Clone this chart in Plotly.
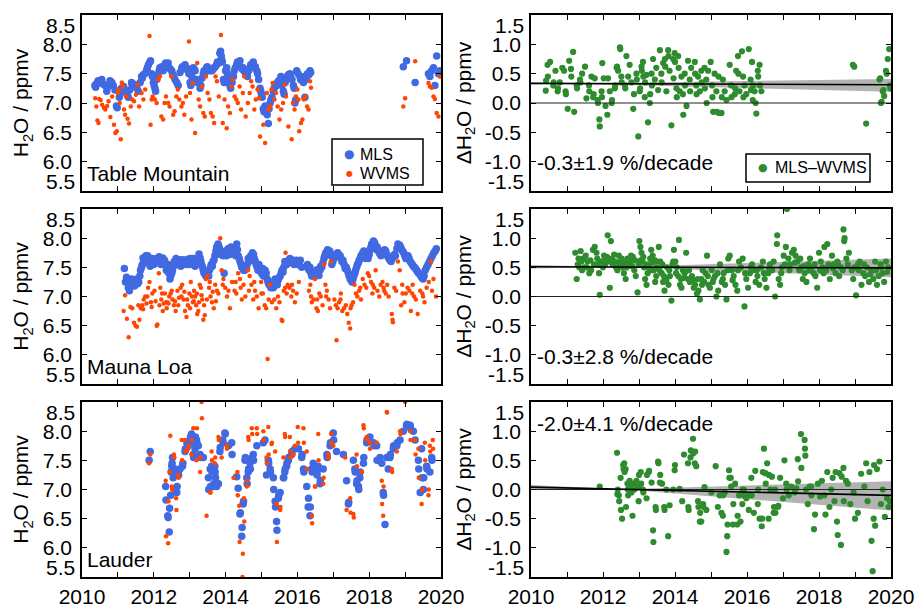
import plotly.graph_objects as go

FONT = "Liberation Sans, Arial, Helvetica, sans-serif"
BLUE = "#4169E1"
ORANGE = "#FF4500"
GREEN = "#2E8B2E"

EVEN_YEARS = [2010, 2012, 2014, 2016, 2018, 2020]
YEAR_TEXT = ["2010", "2012", "2014", "2016", "2018", "2020"]
LEFT_TICKS = [6.0, 6.5, 7.0, 7.5, 8.0]
LEFT_TEXT = ["6.0", "6.5", "7.0", "7.5", "8.0"]
RIGHT_TICKS = [-1.0, -0.5, 0.0, 0.5, 1.0]
RIGHT_TEXT = ["-1.0", "-0.5", "0.0", "0.5", "1.0"]

STATIONS = ["Table Mountain", "Mauna Loa", "Lauder"]
TRENDS = ["-0.3\u00b11.9 %/decade", "-0.3\u00b12.8 %/decade", "-2.0\u00b14.1 %/decade"]

# ---------------- Table Mountain ----------------
tm_mls = [
    (2010.36, 7.30), (2010.38, 7.27), (2010.45, 7.38), (2010.47, 7.34), (2010.55, 7.40), (2010.64, 7.30),
    (2010.69, 7.20), (2010.78, 7.38), (2010.87, 7.30), (2010.92, 7.22), (2010.96, 6.95), (2010.98, 6.92),
    (2011.04, 7.10), (2011.10, 7.25), (2011.12, 7.20), (2011.20, 7.20), (2011.29, 7.10), (2011.38, 7.35),
    (2011.40, 7.30), (2011.48, 7.30), (2011.50, 7.27), (2011.57, 7.20), (2011.66, 7.45), (2011.68, 7.42),
    (2011.75, 7.50), (2011.80, 7.56), (2011.82, 7.60), (2011.89, 7.70), (2011.91, 7.72), (2011.94, 7.50),
    (2011.96, 7.45), (2011.99, 7.35), (2012.01, 7.30), (2012.03, 7.25), (2012.05, 7.20), (2012.08, 7.40),
    (2012.15, 7.55), (2012.17, 7.60), (2012.22, 7.62), (2012.31, 7.65), (2012.33, 7.68), (2012.40, 7.68),
    (2012.42, 7.60), (2012.50, 7.55), (2012.52, 7.50), (2012.59, 7.40), (2012.68, 7.30), (2012.78, 7.60),
    (2012.80, 7.62), (2012.87, 7.65), (2012.96, 7.55), (2012.98, 7.50), (2013.01, 7.35), (2013.03, 7.30),
    (2013.10, 7.60), (2013.12, 7.58), (2013.19, 7.40), (2013.21, 7.35), (2013.29, 7.25), (2013.31, 7.30),
    (2013.38, 7.50), (2013.40, 7.55), (2013.47, 7.60), (2013.49, 7.62), (2013.57, 7.55), (2013.66, 7.58),
    (2013.68, 7.60), (2013.75, 7.65), (2013.77, 7.70), (2013.84, 7.85), (2013.86, 7.88), (2013.88, 7.80),
    (2013.89, 7.75), (2013.91, 7.70), (2013.94, 7.40), (2013.96, 7.35), (2014.03, 7.60), (2014.05, 7.50),
    (2014.12, 7.30), (2014.14, 7.25), (2014.22, 7.45), (2014.24, 7.55), (2014.31, 7.65), (2014.33, 7.70),
    (2014.40, 7.72), (2014.42, 7.62), (2014.49, 7.60), (2014.51, 7.55), (2014.59, 7.50), (2014.61, 7.45),
    (2014.68, 7.60), (2014.70, 7.65), (2014.77, 7.70), (2014.79, 7.60), (2014.87, 7.55), (2014.89, 7.50),
    (2014.96, 7.25), (2014.98, 7.20), (2015.00, 7.15), (2015.02, 7.10), (2015.05, 6.90), (2015.07, 6.85),
    (2015.14, 6.85), (2015.16, 6.80), (2015.19, 6.65), (2015.24, 7.00), (2015.26, 7.05), (2015.33, 7.20),
    (2015.35, 7.25), (2015.42, 7.30), (2015.44, 7.35), (2015.52, 7.40), (2015.54, 7.45), (2015.61, 7.20),
    (2015.63, 7.15), (2015.70, 7.40), (2015.72, 7.45), (2015.79, 7.50), (2015.81, 7.48), (2015.89, 7.30),
    (2015.91, 7.25), (2015.93, 7.00), (2015.95, 7.05), (2015.98, 7.55), (2016.07, 7.45), (2016.09, 7.40),
    (2016.17, 7.35), (2016.19, 7.45), (2016.21, 7.10), (2016.26, 7.45), (2016.28, 7.50), (2016.35, 7.55),
    (2016.37, 7.52), (2018.95, 7.62), (2019.04, 7.72), (2019.28, 7.35), (2019.65, 7.50), (2019.69, 7.45),
    (2019.74, 7.55), (2019.79, 7.60), (2019.83, 7.30), (2019.88, 7.80), (2019.93, 7.50), (2019.97, 7.55),
    (2010.40, 7.33), (2010.50, 7.36), (2010.60, 7.32), (2010.73, 7.28), (2010.83, 7.35), (2011.07, 7.18),
    (2011.16, 7.28), (2011.25, 7.15), (2011.33, 7.22), (2011.44, 7.32), (2011.53, 7.25), (2011.62, 7.35),
    (2011.71, 7.48), (2011.85, 7.65), (2012.11, 7.48), (2012.19, 7.58), (2012.26, 7.55), (2012.36, 7.62),
    (2012.46, 7.58), (2012.56, 7.45), (2012.64, 7.35), (2012.73, 7.52), (2012.84, 7.58), (2012.91, 7.60),
    (2013.06, 7.45), (2013.15, 7.55), (2013.25, 7.35), (2013.34, 7.42), (2013.43, 7.52), (2013.53, 7.58),
    (2013.62, 7.55), (2013.71, 7.62), (2013.80, 7.68), (2014.00, 7.55), (2014.08, 7.40), (2014.18, 7.35),
    (2014.27, 7.60), (2014.36, 7.68), (2014.46, 7.58), (2014.55, 7.52), (2014.64, 7.55), (2014.73, 7.65),
    (2014.83, 7.62), (2014.92, 7.40), (2015.10, 6.95), (2015.21, 6.90), (2015.29, 7.10), (2015.38, 7.28),
    (2015.48, 7.38), (2015.57, 7.30), (2015.66, 7.35), (2015.75, 7.48), (2015.85, 7.40), (2016.02, 7.50),
    (2016.13, 7.38), (2016.23, 7.40), (2016.32, 7.48),
]
tm_wvms = [
    (2010.37, 7.08), (2010.40, 6.94), (2010.43, 6.70), (2010.46, 6.66), (2010.48, 7.07),
    (2010.52, 7.05), (2010.56, 6.97), (2010.61, 6.92), (2010.65, 6.89), (2010.70, 6.95), (2010.74, 7.03),
    (2010.79, 6.76), (2010.84, 7.11), (2010.89, 6.63), (2010.93, 6.49), (2010.97, 6.52), (2011.00, 7.17),
    (2011.02, 7.23), (2011.05, 7.00), (2011.08, 6.38), (2011.11, 7.35), (2011.14, 7.28), (2011.17, 6.89),
    (2011.20, 6.80), (2011.23, 7.11), (2011.27, 6.73), (2011.31, 6.65), (2011.36, 6.94), (2011.40, 7.06),
    (2011.45, 7.03), (2011.50, 7.14), (2011.55, 7.31), (2011.59, 6.94), (2011.66, 7.17), (2011.71, 7.06),
    (2011.76, 7.23), (2011.88, 8.14), (2011.91, 6.63), (2011.94, 7.06), (2011.97, 7.11), (2012.03, 7.06),
    (2012.08, 7.00), (2012.13, 7.40), (2012.17, 7.45), (2012.21, 6.77), (2012.26, 6.72), (2012.30, 7.00),
    (2012.34, 7.11), (2012.40, 7.00), (2012.44, 6.94), (2012.49, 7.45), (2012.54, 6.80), (2012.58, 6.86),
    (2012.63, 7.11), (2012.67, 7.23), (2012.71, 7.06), (2012.77, 6.94), (2012.81, 7.00), (2012.85, 6.80),
    (2012.90, 7.11), (2012.98, 8.05), (2013.01, 7.17), (2013.05, 6.72), (2013.08, 7.34), (2013.15, 6.49),
    (2013.21, 7.68), (2013.25, 7.06), (2013.29, 6.94), (2013.34, 7.28), (2013.38, 6.83), (2013.42, 6.77),
    (2013.45, 7.45), (2013.50, 7.17), (2013.55, 7.06), (2013.59, 6.83), (2013.64, 6.77), (2013.68, 6.66),
    (2013.72, 7.45), (2013.76, 7.37), (2013.81, 7.11), (2013.87, 8.16), (2013.92, 6.66), (2013.97, 7.06),
    (2014.03, 6.57), (2014.07, 6.94), (2014.12, 6.83), (2014.16, 7.28), (2014.20, 7.40), (2014.25, 7.11),
    (2014.30, 7.06), (2014.34, 7.00), (2014.39, 7.28), (2014.43, 6.89), (2014.48, 7.17), (2014.52, 7.45),
    (2014.56, 6.77), (2014.62, 7.00), (2014.67, 7.17), (2014.71, 7.37), (2014.75, 7.28), (2014.80, 6.89),
    (2014.84, 7.06), (2014.89, 7.23), (2014.93, 7.08), (2014.96, 6.43), (2015.05, 6.63), (2015.10, 6.32),
    (2015.15, 7.17), (2015.20, 6.89), (2015.24, 6.94), (2015.28, 7.23), (2015.31, 7.34), (2015.36, 7.06),
    (2015.40, 7.17), (2015.45, 6.94), (2015.50, 6.72), (2015.55, 6.89), (2015.60, 7.00), (2015.64, 7.31),
    (2015.68, 7.11), (2015.75, 6.60), (2015.84, 6.38), (2015.88, 7.00), (2015.92, 6.89), (2015.96, 7.11),
    (2016.00, 7.23), (2016.03, 7.06), (2016.05, 6.52), (2016.10, 6.66), (2016.14, 6.72), (2016.18, 7.06),
    (2016.22, 7.11), (2016.27, 6.94), (2016.31, 6.89), (2016.35, 7.37), (2016.38, 7.26), (2018.95, 6.94),
    (2019.00, 7.08), (2019.28, 7.71), (2019.65, 7.34), (2019.69, 7.28), (2019.74, 7.26), (2019.79, 7.11),
    (2019.83, 7.07), (2019.88, 6.83), (2019.93, 6.77), (2019.97, 7.45),
]
tm_diff = [
    (2010.41, 0.21), (2010.42, 0.38), (2010.46, 0.65), (2010.47, 0.45), (2010.53, 0.70), (2010.62, 0.30),
    (2010.63, 0.35), (2010.68, 0.55), (2010.74, 0.20), (2010.75, 0.25), (2010.80, 0.35), (2010.87, 0.60),
    (2010.92, 0.55), (2010.96, 0.20), (2010.97, 0.15), (2011.02, -0.10), (2011.06, 0.72), (2011.11, 0.58),
    (2011.12, 0.45), (2011.17, 0.87), (2011.20, -0.15), (2011.27, 0.30), (2011.28, 0.25), (2011.36, 0.40),
    (2011.37, 0.35), (2011.42, 0.50), (2011.50, 0.62), (2011.54, 0.08), (2011.61, 0.30), (2011.62, 0.20),
    (2011.68, 0.45), (2011.73, 0.10), (2011.74, 0.15), (2011.77, 0.42), (2011.85, 0.05), (2011.86, 0.00),
    (2011.90, -0.28), (2011.91, -0.40), (2011.96, 0.20), (2011.97, 0.10), (2011.98, 0.68), (2012.02, 0.42),
    (2012.07, -0.05), (2012.12, -0.20), (2012.14, 0.42), (2012.19, 0.20), (2012.24, 0.00), (2012.25, 0.05),
    (2012.33, 0.25), (2012.34, 0.30), (2012.38, 0.60), (2012.39, 0.62), (2012.42, 0.55), (2012.47, 0.95),
    (2012.48, 0.92), (2012.51, 0.45), (2012.52, 0.35), (2012.61, 0.30), (2012.62, 0.25), (2012.65, 0.80),
    (2012.70, 0.45), (2012.74, 0.65), (2012.79, 0.35), (2012.84, -0.10), (2012.86, 0.15), (2012.93, 0.50),
    (2012.94, 0.40), (2012.98, -0.57), (2013.02, 0.20), (2013.03, 0.25), (2013.07, 0.62), (2013.08, 0.55),
    (2013.11, 0.70), (2013.12, 0.45), (2013.16, 0.10), (2013.17, 0.35), (2013.21, 0.48), (2013.25, -0.33),
    (2013.30, 0.00), (2013.31, 0.15), (2013.35, 0.50), (2013.36, 0.30), (2013.39, 0.75), (2013.44, 0.40),
    (2013.48, 0.60), (2013.53, 0.22), (2013.58, 0.90), (2013.62, 0.50), (2013.63, 0.35), (2013.67, 0.68),
    (2013.72, 0.75), (2013.73, 0.62), (2013.76, 0.20), (2013.81, 0.90), (2013.82, 0.80), (2013.85, 0.55),
    (2013.90, -0.38), (2013.95, 0.75), (2013.96, 0.42), (2013.99, 0.85), (2014.00, 0.70), (2014.04, 0.25),
    (2014.05, 0.10), (2014.09, 0.80), (2014.10, 0.60), (2014.13, 0.20), (2014.18, 0.45), (2014.22, 0.15),
    (2014.23, -0.20), (2014.27, 0.50), (2014.28, 0.30), (2014.32, -0.05), (2014.36, 0.72), (2014.41, 0.40),
    (2014.42, 0.20), (2014.45, 0.60), (2014.55, 0.70), (2014.56, 0.50), (2014.59, 0.30), (2014.60, 0.15),
    (2014.64, 0.45), (2014.69, 0.20), (2014.73, 0.55), (2014.74, 0.35), (2014.82, 0.60), (2014.83, 0.25),
    (2014.87, 0.40), (2014.88, 0.00), (2014.92, 0.55), (2014.99, 0.70), (2015.03, 0.30), (2015.04, 0.10),
    (2015.06, -0.15), (2015.10, 0.50), (2015.15, 0.20), (2015.16, -0.15), (2015.21, 0.45), (2015.22, -0.17),
    (2015.29, -0.17), (2015.30, 0.10), (2015.33, 0.40), (2015.38, 0.20), (2015.43, 0.05), (2015.52, 0.65),
    (2015.56, 0.30), (2015.57, 0.10), (2015.66, 0.15), (2015.67, 0.25), (2015.70, 0.55), (2015.75, 0.80),
    (2015.76, 0.50), (2015.79, 0.20), (2015.86, 0.88), (2015.89, 0.45), (2015.90, 0.10), (2015.93, 0.30),
    (2015.98, 0.15), (2016.05, 0.92), (2016.10, 0.40), (2016.11, 0.22), (2016.14, 0.70), (2016.16, 0.05),
    (2016.17, 0.30), (2016.21, 0.20), (2016.24, 0.00), (2016.26, -0.18), (2016.30, 0.55), (2016.31, 0.45),
    (2016.35, 0.65), (2016.36, 0.30), (2016.40, 0.20), (2018.94, 0.65), (2018.98, 0.62), (2019.31, -0.35),
    (2019.68, 0.40), (2019.70, 0.42), (2019.72, 0.00), (2019.74, 0.02), (2019.77, 0.20), (2019.79, 0.22),
    (2019.81, 0.12), (2019.86, 0.55), (2019.88, 0.50), (2019.91, 0.75), (2019.95, 0.92), (2019.97, 0.30),
    (2019.98, 0.25),
]
tm_band_year = [2010.0, 2011.0, 2020.0]
tm_band_upper = [0.35, 0.333, 0.41]
tm_band_lower = [0.32, 0.333, 0.19]
tm_trend = [0.335, 0.31]

# ---------------- Mauna Loa ----------------
ml_mls = [
    (2011.18, 7.48), (2011.24, 7.33), (2011.26, 7.28), (2011.29, 7.15), (2011.32, 7.10), (2011.36, 7.20),
    (2011.40, 7.25), (2011.44, 7.22), (2011.48, 7.28), (2011.53, 7.30), (2011.58, 7.25), (2011.63, 7.45),
    (2011.68, 7.55), (2011.73, 7.62), (2011.78, 7.70), (2011.83, 7.70), (2011.88, 7.60), (2011.93, 7.55),
    (2011.97, 7.60), (2012.02, 7.62), (2012.07, 7.65), (2012.12, 7.65), (2012.17, 7.60), (2012.22, 7.62),
    (2012.27, 7.60), (2012.32, 7.55), (2012.37, 7.50), (2012.42, 7.40), (2012.47, 7.35), (2012.52, 7.45),
    (2012.57, 7.60), (2012.62, 7.65), (2012.67, 7.60), (2012.72, 7.55), (2012.77, 7.60), (2012.82, 7.58),
    (2012.87, 7.62), (2012.92, 7.55), (2012.97, 7.60), (2013.02, 7.65), (2013.07, 7.62), (2013.12, 7.55),
    (2013.17, 7.60), (2013.22, 7.65), (2013.26, 7.73), (2013.31, 7.60), (2013.36, 7.50), (2013.40, 7.40),
    (2013.45, 7.35), (2013.50, 7.38), (2013.55, 7.45), (2013.60, 7.55), (2013.65, 7.60), (2013.70, 7.70),
    (2013.75, 7.85), (2013.79, 7.90), (2013.83, 7.82), (2013.87, 7.78), (2013.90, 7.75), (2013.96, 7.40),
    (2014.00, 7.78), (2014.05, 7.75), (2014.10, 7.80), (2014.15, 7.85), (2014.20, 7.78), (2014.25, 7.75),
    (2014.31, 7.90), (2014.35, 7.70), (2014.40, 7.60), (2014.45, 7.50), (2014.50, 7.45), (2014.55, 7.50),
    (2014.60, 7.55), (2014.65, 7.60), (2014.70, 7.70), (2014.75, 7.75), (2014.80, 7.65), (2014.85, 7.55),
    (2014.90, 7.45), (2014.95, 7.50), (2015.00, 7.40), (2015.05, 7.35), (2015.10, 7.45), (2015.16, 7.30),
    (2015.21, 7.20), (2015.26, 7.15), (2015.31, 7.20), (2015.36, 7.25), (2015.41, 7.22), (2015.46, 7.28),
    (2015.52, 7.35), (2015.57, 7.45), (2015.62, 7.50), (2015.67, 7.55), (2015.73, 7.60), (2015.79, 7.65),
    (2015.85, 7.60), (2015.91, 7.55), (2015.97, 7.62), (2016.05, 7.58), (2016.12, 7.50), (2016.28, 7.55),
    (2016.33, 7.45), (2016.38, 7.40), (2016.43, 7.35), (2016.48, 7.38), (2016.53, 7.42), (2016.58, 7.40),
    (2016.63, 7.45), (2016.68, 7.50), (2016.74, 7.65), (2016.79, 7.75), (2016.84, 7.80), (2016.90, 7.78),
    (2016.96, 7.55), (2017.01, 7.65), (2017.06, 7.72), (2017.12, 7.75), (2017.19, 7.70), (2017.24, 7.60),
    (2017.30, 7.55), (2017.36, 7.50), (2017.42, 7.40), (2017.47, 7.30), (2017.52, 7.25), (2017.57, 7.35),
    (2017.62, 7.45), (2017.67, 7.55), (2017.72, 7.62), (2017.77, 7.70), (2017.82, 7.75), (2017.87, 7.70),
    (2017.92, 7.72), (2017.97, 7.65), (2018.02, 7.80), (2018.07, 7.90), (2018.12, 7.95), (2018.17, 7.88),
    (2018.22, 7.85), (2018.28, 7.75), (2018.33, 7.70), (2018.38, 7.78), (2018.43, 7.80), (2018.49, 7.72),
    (2018.55, 7.65), (2018.61, 7.60), (2018.67, 7.68), (2018.73, 7.70), (2018.80, 7.90), (2018.85, 7.88),
    (2018.90, 7.80), (2018.96, 7.75), (2019.02, 7.65), (2019.08, 7.70), (2019.14, 7.60), (2019.20, 7.55),
    (2019.26, 7.50), (2019.32, 7.45), (2019.38, 7.40), (2019.44, 7.35), (2019.50, 7.30), (2019.56, 7.45),
    (2019.64, 7.55), (2019.72, 7.65), (2019.80, 7.75), (2019.87, 7.82),
    (2011.21, 7.25), (2011.31, 7.22), (2011.38, 7.30), (2011.46, 7.18), (2011.55, 7.22), (2011.61, 7.35),
    (2011.66, 7.50), (2011.70, 7.66), (2011.75, 7.58), (2011.80, 7.64), (2011.86, 7.66), (2011.90, 7.52),
    (2011.95, 7.65), (2012.00, 7.55), (2012.05, 7.58), (2012.10, 7.60), (2012.15, 7.68), (2012.20, 7.55),
    (2012.25, 7.66), (2012.30, 7.62), (2012.35, 7.45), (2012.40, 7.55), (2012.45, 7.30), (2012.50, 7.40),
    (2012.55, 7.52), (2012.60, 7.58), (2012.65, 7.55), (2012.70, 7.63), (2012.75, 7.52), (2012.80, 7.63),
    (2012.85, 7.55), (2012.90, 7.60), (2012.95, 7.64), (2013.00, 7.55), (2013.05, 7.57), (2013.10, 7.65),
    (2013.15, 7.52), (2013.20, 7.58), (2013.24, 7.62), (2013.29, 7.66), (2013.33, 7.55), (2013.38, 7.45),
    (2013.43, 7.38), (2013.48, 7.42), (2013.53, 7.35), (2013.58, 7.50), (2013.63, 7.52), (2013.68, 7.63),
    (2013.73, 7.78), (2013.77, 7.80), (2013.81, 7.86), (2013.85, 7.72), (2013.93, 7.70), (2014.02, 7.70),
    (2014.07, 7.82), (2014.12, 7.72), (2014.17, 7.78), (2014.22, 7.82), (2014.28, 7.70), (2014.33, 7.80),
    (2014.38, 7.65), (2014.43, 7.55), (2014.48, 7.52), (2014.53, 7.45), (2014.58, 7.48), (2014.63, 7.65),
    (2014.68, 7.62), (2014.73, 7.68), (2014.78, 7.72), (2014.83, 7.60), (2014.88, 7.50), (2014.93, 7.55),
    (2014.98, 7.45), (2015.03, 7.48), (2015.08, 7.38), (2015.13, 7.40), (2015.18, 7.25), (2015.23, 7.25),
    (2015.28, 7.20), (2015.33, 7.15), (2015.38, 7.30), (2015.44, 7.20), (2015.49, 7.32), (2015.55, 7.40),
    (2015.60, 7.42), (2015.65, 7.60), (2015.70, 7.55), (2015.76, 7.62), (2015.82, 7.58), (2015.88, 7.62),
    (2015.94, 7.58), (2016.00, 7.55), (2016.08, 7.62), (2016.30, 7.48), (2016.35, 7.50), (2016.40, 7.35),
    (2016.45, 7.42), (2016.50, 7.35), (2016.55, 7.46), (2016.60, 7.36), (2016.65, 7.52), (2016.71, 7.58),
    (2016.76, 7.70), (2016.81, 7.72), (2016.87, 7.74), (2016.93, 7.70), (2016.99, 7.60), (2017.04, 7.70),
    (2017.09, 7.68), (2017.15, 7.72), (2017.21, 7.65), (2017.27, 7.62), (2017.33, 7.48), (2017.39, 7.45),
    (2017.44, 7.35), (2017.50, 7.28), (2017.55, 7.30), (2017.60, 7.40), (2017.65, 7.50), (2017.70, 7.58),
    (2017.75, 7.65), (2017.80, 7.68), (2017.85, 7.78), (2017.90, 7.65), (2017.95, 7.75), (2018.00, 7.72),
    (2018.05, 7.85), (2018.10, 7.88), (2018.15, 7.92), (2018.20, 7.80), (2018.25, 7.80), (2018.31, 7.72),
    (2018.36, 7.74), (2018.41, 7.75), (2018.46, 7.78), (2018.52, 7.68), (2018.58, 7.62), (2018.64, 7.65),
    (2018.70, 7.72), (2018.77, 7.82), (2018.83, 7.85), (2018.88, 7.84), (2018.93, 7.78), (2018.99, 7.70),
    (2019.05, 7.66), (2019.11, 7.65), (2019.17, 7.58), (2019.23, 7.52), (2019.29, 7.48), (2019.35, 7.42),
    (2019.41, 7.38), (2019.47, 7.32), (2019.53, 7.35), (2019.60, 7.50), (2019.68, 7.60), (2019.76, 7.70),
    (2019.84, 7.78),
]
ml_wvms = [
    (2011.16, 6.75), (2011.20, 7.02), (2011.25, 6.62), (2011.30, 6.30), (2011.35, 6.82), (2011.40, 6.80),
    (2011.45, 6.55), (2011.49, 6.50), (2011.53, 6.48), (2011.57, 6.85), (2011.60, 6.60), (2011.64, 6.80),
    (2011.68, 6.85), (2011.72, 6.95), (2011.76, 7.00), (2011.80, 6.88), (2011.84, 7.15), (2011.88, 7.25),
    (2011.92, 6.90), (2011.96, 7.05), (2012.02, 7.10), (2012.08, 6.50), (2012.10, 6.52), (2012.14, 7.40),
    (2012.18, 7.15), (2012.21, 6.95), (2012.25, 6.75), (2012.28, 6.88), (2012.31, 7.05), (2012.34, 6.90),
    (2012.38, 6.90), (2012.43, 7.00), (2012.47, 7.05), (2012.52, 6.95), (2012.56, 6.85), (2012.61, 6.75),
    (2012.66, 7.10), (2012.70, 6.98), (2012.75, 7.15), (2012.79, 7.20), (2012.83, 6.95), (2012.87, 6.75),
    (2012.91, 6.65), (2012.95, 6.85), (2012.99, 7.05), (2013.03, 7.25), (2013.06, 7.00), (2013.09, 6.90),
    (2013.12, 7.10), (2013.15, 7.00), (2013.18, 6.85), (2013.21, 6.70), (2013.24, 6.75), (2013.28, 7.20),
    (2013.31, 7.15), (2013.35, 6.95), (2013.38, 6.60), (2013.42, 6.68), (2013.45, 7.30), (2013.50, 7.35),
    (2013.54, 7.15), (2013.58, 7.00), (2013.62, 6.90), (2013.67, 6.80), (2013.71, 7.20), (2013.76, 7.10),
    (2013.80, 7.05), (2013.85, 8.00), (2013.89, 7.45), (2013.94, 7.30), (2013.99, 7.15), (2014.04, 7.00),
    (2014.12, 6.80), (2014.18, 7.25), (2014.25, 7.10), (2014.30, 7.05), (2014.35, 7.40), (2014.40, 7.30),
    (2014.45, 6.95), (2014.50, 7.20), (2014.55, 7.00), (2014.62, 7.45), (2014.67, 7.35), (2014.72, 7.20),
    (2014.77, 6.95), (2014.82, 7.10), (2014.87, 7.00), (2014.92, 6.80), (2014.99, 7.25), (2015.04, 7.05),
    (2015.09, 6.85), (2015.13, 6.80), (2015.17, 5.93), (2015.23, 7.20), (2015.29, 6.90), (2015.36, 6.95),
    (2015.41, 6.80), (2015.46, 7.00), (2015.56, 6.60), (2015.58, 6.58), (2015.62, 7.10), (2015.66, 7.15),
    (2015.67, 7.75), (2015.73, 7.20), (2015.78, 7.15), (2015.83, 7.00), (2015.88, 7.10), (2015.93, 6.90),
    (2015.98, 7.05), (2016.04, 7.25), (2016.32, 7.10), (2016.36, 7.20), (2016.40, 6.90), (2016.45, 6.95),
    (2016.49, 7.30), (2016.53, 6.80), (2016.57, 6.75), (2016.61, 7.05), (2016.65, 7.00), (2016.70, 6.85),
    (2016.74, 7.55), (2016.78, 7.20), (2016.82, 7.10), (2016.87, 6.95), (2016.91, 6.80), (2016.93, 7.60),
    (2017.03, 6.95), (2017.07, 6.85), (2017.09, 6.25), (2017.12, 6.80), (2017.16, 6.90), (2017.21, 7.05),
    (2017.25, 6.75), (2017.30, 6.80), (2017.35, 6.85), (2017.39, 6.70), (2017.43, 6.55), (2017.47, 6.45),
    (2017.51, 6.85), (2017.55, 6.90), (2017.59, 7.20), (2017.63, 7.05), (2017.67, 7.00), (2017.72, 7.10),
    (2017.77, 6.95), (2017.82, 7.30), (2017.87, 7.20), (2017.92, 7.15), (2017.96, 7.40), (2018.00, 7.35),
    (2018.05, 7.25), (2018.09, 7.05), (2018.14, 7.15), (2018.18, 7.45), (2018.23, 7.10), (2018.28, 7.00),
    (2018.32, 7.20), (2018.37, 7.25), (2018.42, 7.10), (2018.46, 7.05), (2018.50, 7.20), (2018.54, 7.00),
    (2018.63, 6.70), (2018.65, 6.60), (2018.66, 6.56), (2018.72, 5.47), (2018.70, 7.15), (2018.75, 7.10),
    (2018.80, 7.60), (2018.85, 7.45), (2018.89, 6.85), (2018.93, 7.05), (2018.98, 6.90), (2019.02, 7.05),
    (2019.07, 7.15), (2019.12, 7.10), (2019.16, 6.75), (2019.21, 7.20), (2019.25, 7.00), (2019.30, 6.95),
    (2019.35, 6.70), (2019.42, 7.10), (2019.48, 7.05), (2019.54, 6.90), (2019.60, 7.15), (2019.66, 7.25),
    (2019.72, 7.60), (2019.79, 7.30), (2019.86, 7.00),
    (2011.70, 6.78), (2011.82, 7.00), (2011.94, 6.82), (2012.05, 6.92), (2012.16, 6.85), (2012.23, 7.05),
    (2012.36, 6.80), (2012.41, 6.88), (2012.50, 7.10), (2012.59, 6.92), (2012.68, 6.85), (2012.77, 7.00),
    (2012.85, 7.08), (2012.93, 6.95), (2013.01, 6.80), (2013.11, 6.92), (2013.20, 7.05), (2013.26, 6.90),
    (2013.33, 7.02), (2013.40, 6.85), (2013.48, 6.95), (2013.56, 7.25), (2013.64, 7.08), (2013.73, 6.92),
    (2013.92, 7.20), (2014.08, 7.10), (2014.28, 7.25), (2014.42, 7.15), (2014.65, 7.10), (2014.80, 7.25),
    (2015.00, 7.05), (2015.20, 6.95), (2015.50, 6.90), (2015.70, 7.05), (2015.85, 7.20), (2016.38, 7.00),
    (2016.55, 6.95), (2016.80, 7.00), (2017.20, 6.95), (2017.48, 6.80), (2017.75, 7.15), (2018.10, 7.20),
    (2018.40, 7.15), (2018.92, 7.20), (2019.20, 7.05), (2019.50, 7.00), (2019.75, 7.10),
]
ml_diff = [
    (2011.23, 0.75), (2011.27, 0.30), (2011.30, 0.55), (2011.34, 0.50), (2011.38, 0.78), (2011.42, 0.45),
    (2011.45, 0.65), (2011.48, 0.50), (2011.52, 0.70), (2011.57, 0.60), (2011.62, 0.40), (2011.67, 0.45),
    (2011.72, 0.80), (2011.77, 0.85), (2011.82, 0.75), (2011.91, 0.03), (2011.86, 0.55), (2011.89, 0.40),
    (2011.94, 0.60), (2011.98, 0.60), (2012.13, 1.05), (2012.22, 0.95), (2012.19, 0.15), (2012.03, 0.70),
    (2012.08, 0.65), (2012.27, 0.55), (2012.31, 0.72), (2012.36, 0.50), (2012.40, 0.45), (2012.44, 0.70),
    (2012.49, 0.60), (2012.54, 0.50), (2012.58, 0.40), (2012.63, 0.30), (2012.68, 0.65), (2012.73, 0.55),
    (2012.78, 0.70), (2012.83, 0.68), (2012.87, 0.45), (2012.91, 0.35), (2012.96, 0.07), (2013.01, 0.95),
    (2013.04, 0.85), (2013.07, 0.75), (2013.10, 0.60), (2013.14, 0.50), (2013.17, 0.30), (2013.21, 0.20),
    (2013.24, 0.40), (2013.28, 0.55), (2013.31, 0.65), (2013.34, 0.80), (2013.38, 0.70), (2013.41, 0.45),
    (2013.45, 0.25), (2013.48, 0.35), (2013.51, 0.60), (2013.55, 0.85), (2013.59, 0.60), (2013.63, 0.40),
    (2013.67, 0.25), (2013.71, 0.10), (2013.74, 0.30), (2013.78, 0.50), (2013.82, 0.20), (2013.86, 0.35),
    (2013.93, 0.55), (2013.97, 0.80), (2013.90, -0.07), (2014.11, 0.97), (2014.01, 0.60), (2014.05, 0.50),
    (2014.09, 0.35), (2014.14, 0.20), (2014.18, 0.15), (2014.22, 0.45), (2014.27, 0.40), (2014.31, 0.75),
    (2014.36, 0.30), (2014.41, 0.25), (2014.47, 0.35), (2014.52, 0.15), (2014.56, 0.20), (2014.61, 0.05),
    (2014.69, -0.05), (2014.65, 0.10), (2014.73, 0.30), (2014.77, 0.45), (2014.81, 0.25), (2014.85, 0.40),
    (2014.89, 0.70), (2014.93, 0.20), (2014.97, 0.15), (2015.02, 0.45), (2015.07, 0.30), (2015.11, 0.35),
    (2015.15, 0.00), (2015.20, 0.10), (2015.25, 0.55), (2015.30, 0.25), (2015.43, -0.05), (2015.35, 0.40),
    (2015.39, 0.20), (2015.48, 0.65), (2015.52, 0.70), (2015.58, 0.45), (2015.63, 0.35), (2015.68, 0.20),
    (2015.73, 0.10), (2015.93, -0.17), (2015.78, 0.60), (2015.83, 0.50), (2015.88, 0.65), (2015.98, 0.30),
    (2016.03, 0.15), (2016.08, 0.40), (2016.14, 0.55), (2016.19, 0.45), (2016.24, 0.25), (2016.29, 0.35),
    (2016.34, 0.20), (2016.39, 0.50), (2016.44, 0.60), (2016.49, 0.30), (2016.54, 0.15), (2016.59, 0.40),
    (2016.64, 0.55), (2016.78, 0.00), (2016.83, 0.90), (2016.84, 1.05), (2016.70, 0.45), (2016.74, 0.60),
    (2016.88, 0.30), (2016.92, 0.20), (2017.11, 1.50), (2017.08, 0.85), (2016.97, 0.50), (2017.02, 0.70),
    (2017.15, 0.65), (2017.20, 0.55), (2017.25, 0.75), (2017.30, 0.80), (2017.35, 0.70), (2017.40, 0.60),
    (2017.45, 0.45), (2017.50, 0.50), (2017.55, 0.30), (2017.60, 0.40), (2017.65, 0.25), (2017.70, 0.55),
    (2017.75, 0.65), (2017.80, 0.50), (2017.85, 0.40), (2017.90, 0.35), (2017.95, 0.15), (2018.00, 0.75),
    (2018.05, 0.60), (2018.10, 0.50), (2018.23, 0.90), (2018.15, 0.85), (2018.20, 0.45), (2018.30, 0.30),
    (2018.36, 0.70), (2018.41, 0.55), (2018.46, 0.40), (2018.51, 0.60), (2018.68, 1.15), (2018.70, 0.95),
    (2018.71, 1.00), (2018.56, 0.35), (2018.61, 0.50), (2018.76, 0.65), (2018.83, 0.75), (2018.91, 0.45),
    (2018.95, 0.30), (2019.03, 0.02), (2019.08, 0.55), (2019.13, 0.60), (2019.18, 0.20), (2019.23, 0.40),
    (2019.28, 0.35), (2019.33, 0.50), (2019.39, 0.25), (2019.46, 0.45), (2019.51, 0.30), (2019.56, 0.60),
    (2019.61, 0.20), (2019.66, 0.35), (2019.71, 0.55), (2019.76, 0.40), (2019.81, 0.25), (2019.86, 0.60),
    (2019.92, 0.50),
    (2011.32, 0.65), (2011.40, 0.60), (2011.55, 0.50), (2011.65, 0.62), (2011.75, 0.55), (2011.84, 0.65),
    (2012.00, 0.50), (2012.06, 0.55), (2012.11, 0.68), (2012.16, 0.60), (2012.25, 0.65), (2012.34, 0.60),
    (2012.47, 0.55), (2012.52, 0.65), (2012.61, 0.58), (2012.66, 0.50), (2012.76, 0.60), (2012.81, 0.52),
    (2012.89, 0.62), (2012.99, 0.55), (2013.05, 0.62), (2013.12, 0.68), (2013.19, 0.55), (2013.26, 0.50),
    (2013.33, 0.45), (2013.39, 0.58), (2013.44, 0.62), (2013.50, 0.50), (2013.57, 0.45), (2013.65, 0.55),
    (2013.69, 0.35), (2013.76, 0.28), (2013.84, 0.45), (2013.95, 0.60), (2014.03, 0.40), (2014.16, 0.30),
    (2014.25, 0.32), (2014.39, 0.45), (2014.50, 0.28), (2014.63, 0.30), (2014.75, 0.20), (2014.91, 0.35),
    (2015.05, 0.25), (2015.18, 0.40), (2015.33, 0.30), (2015.46, 0.45), (2015.60, 0.28), (2015.75, 0.45),
    (2015.95, 0.40), (2016.10, 0.50), (2016.27, 0.45), (2016.47, 0.40), (2016.62, 0.48), (2016.95, 0.40),
    (2017.05, 0.55), (2017.18, 0.45), (2017.33, 0.58), (2017.48, 0.65), (2017.58, 0.52), (2017.73, 0.45),
    (2017.88, 0.55), (2018.03, 0.45), (2018.13, 0.40), (2018.26, 0.55), (2018.39, 0.48), (2018.53, 0.55),
    (2018.66, 0.45), (2018.80, 0.55), (2018.98, 0.50), (2019.10, 0.45), (2019.25, 0.55), (2019.42, 0.38),
    (2019.58, 0.45), (2019.73, 0.50), (2019.89, 0.42),
]
ml_band_year = [2010.0, 2012.5, 2020.0]
ml_band_upper = [0.54, 0.505, 0.65]
ml_band_lower = [0.48, 0.505, 0.33]
ml_trend = [0.51, 0.49]

# ---------------- Lauder ----------------
la_mls = [
    (2011.87, 7.50), (2011.90, 7.65), (2012.33, 7.05), (2012.34, 6.82), (2012.39, 6.55), (2012.40, 6.52),
    (2012.43, 6.27), (2012.44, 6.68), (2012.47, 6.90), (2012.48, 7.30), (2012.50, 7.40), (2012.51, 7.45),
    (2012.52, 7.55), (2012.54, 7.20), (2012.55, 7.30), (2012.59, 7.35), (2012.60, 7.00), (2012.64, 6.95),
    (2012.65, 7.05), (2012.68, 7.30), (2012.69, 7.25), (2012.73, 7.35), (2012.80, 7.40), (2012.81, 7.45),
    (2012.87, 7.65), (2012.88, 7.70), (2012.92, 7.80), (2012.96, 7.75), (2013.01, 7.85), (2013.02, 7.90),
    (2013.05, 7.95), (2013.06, 7.80), (2013.10, 7.60), (2013.11, 7.55), (2013.15, 7.70), (2013.16, 7.90),
    (2013.19, 7.85), (2013.20, 7.80), (2013.24, 7.75), (2013.29, 7.60), (2013.30, 7.55), (2013.38, 7.55),
    (2013.52, 7.20), (2013.53, 7.00), (2013.57, 7.35), (2013.58, 7.05), (2013.61, 7.40), (2013.62, 7.30),
    (2013.66, 7.05), (2013.67, 7.10), (2013.70, 7.40), (2013.71, 7.30), (2013.72, 7.20), (2013.75, 7.05),
    (2013.76, 7.10), (2013.80, 7.10), (2013.84, 7.65), (2013.85, 7.72), (2013.92, 7.85), (2013.93, 7.80),
    (2013.98, 7.97), (2013.99, 7.95), (2014.08, 7.75), (2014.17, 7.80), (2014.18, 7.60), (2014.31, 7.22),
    (2014.35, 7.02), (2014.40, 6.58), (2014.41, 6.60), (2014.45, 6.20), (2014.46, 6.35), (2014.49, 6.75),
    (2014.50, 6.80), (2014.54, 7.50), (2014.55, 7.55), (2014.59, 7.20), (2014.60, 7.10), (2014.63, 7.30),
    (2014.64, 7.35), (2014.68, 7.45), (2014.69, 7.35), (2014.73, 7.50), (2014.74, 7.55), (2014.77, 7.60),
    (2014.78, 7.50), (2014.87, 7.75), (2015.05, 7.80), (2015.10, 7.85), (2015.14, 7.25), (2015.19, 7.50),
    (2015.20, 7.45), (2015.24, 7.35), (2015.25, 7.30), (2015.33, 7.20), (2015.34, 7.00), (2015.38, 6.80),
    (2015.39, 6.70), (2015.42, 6.45), (2015.43, 6.30), (2015.47, 6.85), (2015.48, 6.90), (2015.52, 6.95),
    (2015.61, 7.20), (2015.62, 7.20), (2015.65, 7.30), (2015.66, 7.35), (2015.70, 7.40), (2015.71, 7.45),
    (2015.75, 7.50), (2015.76, 7.55), (2015.84, 7.60), (2015.85, 7.65), (2015.93, 7.70), (2016.03, 7.70),
    (2016.12, 7.55), (2016.13, 7.60), (2016.17, 7.35), (2016.18, 7.30), (2016.26, 7.05), (2016.30, 6.70),
    (2016.31, 6.85), (2016.35, 6.55), (2016.36, 6.70), (2016.40, 7.35), (2016.41, 7.30), (2016.44, 7.45),
    (2016.45, 7.40), (2016.49, 7.35), (2016.50, 7.30), (2016.54, 7.30), (2016.55, 7.25), (2016.58, 7.40),
    (2016.59, 7.35), (2016.63, 7.10), (2016.64, 7.15), (2016.72, 7.35), (2016.82, 7.60), (2016.83, 7.55),
    (2016.91, 7.75), (2016.92, 7.80), (2017.00, 7.97), (2017.01, 7.85), (2017.09, 7.65), (2017.28, 7.60),
    (2017.37, 7.15), (2017.42, 6.75), (2017.43, 6.78), (2017.56, 7.50), (2017.60, 7.35), (2017.61, 7.30),
    (2017.65, 7.10), (2017.66, 7.15), (2017.70, 7.05), (2017.71, 7.00), (2017.74, 7.20), (2017.75, 7.30),
    (2017.84, 7.45), (2017.85, 7.55), (2017.93, 7.80), (2017.94, 7.85), (2018.02, 7.90), (2018.12, 7.80),
    (2018.13, 7.75), (2018.21, 7.75), (2018.22, 7.50), (2018.30, 7.55), (2018.35, 7.45), (2018.39, 6.95),
    (2018.40, 6.90), (2018.44, 6.40), (2018.49, 7.55), (2018.53, 7.35), (2018.58, 7.55), (2018.59, 7.60),
    (2018.67, 7.70), (2018.68, 7.75), (2018.77, 7.75), (2018.78, 7.80), (2018.86, 7.85), (2018.95, 8.00),
    (2019.04, 8.10), (2019.05, 8.12), (2019.14, 8.10), (2019.15, 8.05), (2019.23, 8.00), (2019.28, 7.85),
    (2019.37, 7.50), (2019.38, 7.35), (2019.42, 6.95), (2019.46, 7.70), (2019.47, 7.20), (2019.51, 7.00),
    (2019.52, 7.20), (2019.60, 7.40), (2019.61, 7.35), (2019.69, 7.30), (2019.74, 7.55), (2019.75, 7.50),
]
la_wvms = [
    (2011.87, 7.45), (2011.90, 7.60), (2012.33, 7.15), (2012.34, 6.20), (2012.40, 6.08), (2012.41, 6.80),
    (2012.45, 7.30), (2012.46, 7.92), (2012.50, 7.05), (2012.51, 7.00), (2012.56, 7.60), (2012.57, 7.55),
    (2012.62, 6.85), (2012.63, 6.65), (2012.68, 7.25), (2012.69, 7.20), (2012.78, 7.85), (2012.79, 7.50),
    (2012.87, 7.85), (2012.88, 7.65), (2012.96, 7.70), (2012.97, 7.75), (2013.05, 7.60), (2013.06, 7.85),
    (2013.10, 8.05), (2013.19, 7.50), (2013.20, 8.05), (2013.29, 7.30), (2013.30, 7.55), (2013.33, 8.50),
    (2013.34, 8.22), (2013.47, 6.55), (2013.57, 6.95), (2013.58, 6.95), (2013.61, 7.65), (2013.62, 7.50),
    (2013.70, 7.45), (2013.71, 7.55), (2013.80, 7.90), (2013.81, 7.85), (2013.89, 7.55), (2014.03, 7.75),
    (2014.04, 7.70), (2014.22, 7.20), (2014.33, 7.30), (2014.34, 6.90), (2014.38, 6.72), (2014.39, 6.10),
    (2014.48, 5.90), (2014.47, 5.50), (2014.51, 6.85), (2014.52, 6.45), (2014.59, 7.05), (2014.60, 7.15),
    (2014.63, 7.90), (2014.64, 7.85), (2014.73, 8.05), (2014.74, 7.95), (2014.87, 8.05), (2014.88, 7.95),
    (2015.05, 8.00), (2015.06, 7.85), (2015.14, 7.55), (2015.15, 7.45), (2015.19, 8.07), (2015.20, 7.60),
    (2015.28, 7.78), (2015.29, 7.80), (2015.38, 7.65), (2015.42, 6.75), (2015.43, 6.10), (2015.52, 6.65),
    (2015.53, 6.70), (2015.61, 7.55), (2015.65, 7.95), (2015.66, 7.90), (2015.79, 7.90), (2015.80, 7.65),
    (2015.81, 7.55), (2015.89, 7.60), (2015.93, 7.75), (2016.01, 8.07), (2016.02, 7.80), (2016.17, 8.05),
    (2016.18, 7.80), (2016.26, 7.65), (2016.27, 7.35), (2016.40, 6.55), (2016.41, 6.42), (2016.49, 7.05),
    (2016.50, 7.05), (2016.58, 7.95), (2016.59, 7.50), (2016.72, 7.10), (2016.73, 7.20), (2016.86, 7.60),
    (2016.87, 7.55), (2016.94, 7.95), (2016.95, 7.80), (2017.00, 7.75), (2017.33, 7.55), (2017.37, 6.65),
    (2017.47, 6.85), (2017.48, 6.60), (2017.56, 6.58), (2017.57, 6.52), (2017.65, 7.60), (2017.66, 7.40),
    (2017.79, 7.30), (2017.80, 7.30), (2017.84, 8.10), (2017.85, 8.05), (2017.93, 7.90), (2017.94, 7.85),
    (2018.02, 7.70), (2018.03, 7.80), (2018.21, 7.80), (2018.35, 7.15), (2018.36, 6.75), (2018.39, 6.55),
    (2018.40, 7.05), (2018.49, 8.33), (2018.50, 8.32), (2018.63, 7.35), (2018.64, 7.30), (2018.77, 7.65),
    (2018.86, 8.00), (2018.87, 7.95), (2019.00, 8.50), (2019.14, 8.00), (2019.15, 7.85), (2019.28, 7.85),
    (2019.29, 7.60), (2019.37, 7.70), (2019.38, 7.20), (2019.46, 6.75), (2019.47, 7.00), (2019.55, 7.80),
    (2019.56, 7.50), (2019.65, 6.90), (2019.66, 7.00), (2019.69, 7.75), (2019.70, 7.65), (2019.77, 7.85),
    (2019.78, 7.70),
]
la_diff = [
    (2011.91, 0.05), (2012.39, 0.63), (2012.40, -0.08), (2012.41, 0.00), (2012.44, -0.10), (2012.45, -0.20),
    (2012.49, 0.20), (2012.50, -0.35), (2012.53, -0.50), (2012.56, 0.42), (2012.57, 0.35), (2012.59, 0.45),
    (2012.60, 0.30), (2012.63, 0.35), (2012.64, -0.30), (2012.68, 0.10), (2012.69, 0.00), (2012.70, -0.10),
    (2012.74, 0.15), (2012.75, 0.05), (2012.79, -0.05), (2012.82, -0.45), (2012.86, 0.10), (2012.87, 0.00),
    (2012.93, 0.15), (2012.98, 0.05), (2012.99, -0.20), (2013.00, 0.25), (2013.05, 0.30), (2013.06, 0.10),
    (2013.11, 0.00), (2013.12, -0.05), (2013.21, -0.15), (2013.22, 0.25), (2013.27, 0.30), (2013.28, 0.32),
    (2013.35, 0.12), (2013.39, -0.70), (2013.40, -0.90), (2013.46, -0.30), (2013.47, -0.35), (2013.53, 0.48),
    (2013.54, 0.45), (2013.58, 0.12), (2013.59, 0.25), (2013.64, 0.10), (2013.70, -0.30), (2013.71, -0.35),
    (2013.76, 0.00), (2013.81, -0.80), (2013.85, -0.27), (2013.95, 0.00), (2013.99, 0.33), (2014.00, 0.42),
    (2014.13, 0.01), (2014.20, -0.20), (2014.25, 0.60), (2014.36, 0.45), (2014.37, -0.30), (2014.38, -0.35),
    (2014.43, 0.55), (2014.44, 0.67), (2014.50, 0.87), (2014.51, 0.62), (2014.55, 0.45), (2014.56, 0.65),
    (2014.59, 0.40), (2014.64, -0.20), (2014.65, -0.30), (2014.69, -0.55), (2014.70, -0.40), (2014.73, -0.55),
    (2014.78, -0.25), (2014.79, -0.30), (2014.82, 0.04), (2014.87, -0.35), (2015.01, -0.05), (2015.13, 0.40),
    (2015.19, -0.30), (2015.24, -0.10), (2015.29, -0.40), (2015.33, -0.45), (2015.34, -0.10), (2015.38, -0.05),
    (2015.43, -1.07), (2015.45, -0.80), (2015.46, -0.60), (2015.50, 0.33), (2015.51, 0.20), (2015.55, 0.20),
    (2015.56, 0.05), (2015.61, -0.60), (2015.62, -0.25), (2015.67, 0.10), (2015.73, -0.60), (2015.74, -0.45),
    (2015.78, -0.10), (2015.82, -0.55), (2015.87, -0.25), (2015.88, 0.00), (2015.91, 0.00), (2015.92, -0.10),
    (2015.98, -0.15), (2016.04, -0.10), (2016.05, -0.35), (2016.12, 0.20), (2016.13, -0.10), (2016.19, -0.40),
    (2016.23, 0.32), (2016.30, -0.25), (2016.31, 0.00), (2016.35, -0.50), (2016.41, -0.63), (2016.42, -0.50),
    (2016.44, 0.30), (2016.47, 0.70), (2016.51, 0.28), (2016.52, 0.10), (2016.56, 0.45), (2016.60, -0.50),
    (2016.61, 0.25), (2016.65, 0.00), (2016.69, 0.22), (2016.74, -0.40), (2016.75, -0.30), (2016.78, 0.00),
    (2016.79, -0.40), (2016.86, -0.30), (2016.87, -0.28), (2016.92, 0.20), (2017.00, -0.15), (2017.04, 0.50),
    (2017.09, 0.10), (2017.10, 0.00), (2017.16, -0.10), (2017.23, 0.05), (2017.32, -0.05), (2017.37, 0.02),
    (2017.41, 0.52), (2017.42, 0.14), (2017.50, 0.95), (2017.51, 0.37), (2017.60, 0.85), (2017.61, 0.70),
    (2017.62, 0.58), (2017.64, 0.00), (2017.69, -0.25), (2017.74, 0.05), (2017.78, 0.05), (2017.79, -0.10),
    (2017.86, -0.68), (2017.89, -0.43), (2017.97, 0.10), (2018.03, -0.12), (2018.08, 0.15), (2018.15, -0.10),
    (2018.18, -0.43), (2018.23, 0.30), (2018.29, -0.30), (2018.34, 0.00), (2018.38, 0.20), (2018.43, -0.20),
    (2018.46, 0.30), (2018.50, -0.55), (2018.52, -0.78), (2018.57, 0.28), (2018.61, -0.95), (2018.63, 0.22),
    (2018.68, 0.37), (2018.69, -0.20), (2018.75, 0.15), (2018.80, 0.10), (2018.87, -0.25), (2018.96, -0.05),
    (2019.00, -0.50), (2019.08, -0.40), (2019.17, 0.27), (2019.26, 0.05), (2019.31, 0.45), (2019.35, -0.20),
    (2019.40, 0.30), (2019.46, -0.88), (2019.49, -1.40), (2019.52, -0.50), (2019.53, 0.42), (2019.56, -0.62),
    (2019.61, 0.35), (2019.68, 0.48), (2019.72, -0.25), (2019.77, 0.00), (2019.83, -0.47), (2019.89, -0.15),
    (2019.93, -0.30), (2019.97, -0.20),
]
la_band_year = [2010.0, 2012.5, 2020.0]
la_band_upper = [0.075, 0.005, 0.14]
la_band_lower = [0.005, 0.005, -0.36]
la_trend = [0.04, -0.10]

TREND_YEARS = [2010, 2020]
ZERO = [0.0, 0.0]

# ---------------- figure ----------------
W, H = 917, 607
COLS = {1: (82, 441), 2: (531, 891)}
ROWS = [(15, 191), (209, 384), (402, 577)]


def px(xp):
    return xp / W


def py(yp):
    return 1 - yp / H


def unzip(pairs):
    return [p[0] for p in pairs], [p[1] for p in pairs]


fig = go.Figure()

stations = [
    (tm_mls, tm_wvms, tm_diff, tm_band_year, tm_band_upper, tm_band_lower, tm_trend),
    (ml_mls, ml_wvms, ml_diff, ml_band_year, ml_band_upper, ml_band_lower, ml_trend),
    (la_mls, la_wvms, la_diff, la_band_year, la_band_upper, la_band_lower, la_trend),
]

for r, (mls, wvms, diff, by, bu, bl, tr) in enumerate(stations):
    nl = 2 * r + 1
    nr = 2 * r + 2
    xl, yl = ("x" if nl == 1 else f"x{nl}"), ("y" if nl == 1 else f"y{nl}")
    xr, yr = f"x{nr}", f"y{nr}"

    t, v = unzip(mls)
    fig.add_trace(go.Scatter(x=t, y=v, mode="markers", name="MLS", xaxis=xl, yaxis=yl,
                             marker=dict(color=BLUE, size=7.5, line=dict(width=0))))
    t, v = unzip(wvms)
    fig.add_trace(go.Scatter(x=t, y=v, mode="markers", name="WVMS", xaxis=xl, yaxis=yl,
                             marker=dict(color=ORANGE, size=4.5, line=dict(width=0))))

    fig.add_trace(go.Scatter(x=by + by[::-1], y=bu + bl[::-1], mode="lines", fill="toself",
                             fillcolor="#b3b3b3", line=dict(width=0), xaxis=xr, yaxis=yr,
                             hoverinfo="skip"))
    t, v = unzip(diff)
    fig.add_trace(go.Scatter(x=t, y=v, mode="markers", name="MLS\u2013WVMS", xaxis=xr, yaxis=yr,
                             marker=dict(color=GREEN, size=6.2, line=dict(width=0))))
    fig.add_trace(go.Scatter(x=TREND_YEARS, y=ZERO, mode="lines", line=dict(color="#222", width=1),
                             xaxis=xr, yaxis=yr, hoverinfo="skip"))
    fig.add_trace(go.Scatter(x=TREND_YEARS, y=tr, mode="lines", line=dict(color="black", width=1.6),
                             xaxis=xr, yaxis=yr, hoverinfo="skip"))

axis_common = dict(showline=True, linecolor="black", linewidth=1.5, mirror="ticks",
                   ticks="inside", ticklen=5, tickwidth=1.2, tickcolor="black",
                   showgrid=False, zeroline=False, tickfont=dict(size=21, color="black"))

annotations = []
for n in range(1, 7):
    r = (n - 1) // 2
    c = 1 if n % 2 == 1 else 2
    x0, x1 = COLS[c]
    top, bot = ROWS[r]
    key = "" if n == 1 else str(n)
    bottom_row = r == 2
    fig.layout[f"xaxis{key}"] = dict(
        axis_common, domain=[px(x0), px(x1)], range=[2010, 2020], anchor=f"y{key}",
        tickmode="array", tickvals=EVEN_YEARS, ticktext=YEAR_TEXT,
        showticklabels=bottom_row, ticklabelstandoff=0,
        minor=dict(ticks="inside", ticklen=5, tickwidth=1.2, tickcolor="black",
                   tick0=2010, dtick=1, showgrid=False),
    )
    if c == 1:
        ytv, ytt, rng = LEFT_TICKS, LEFT_TEXT, [5.5, 8.5]
        title = "H<sub>2</sub>O / ppmv"
    else:
        ytv, ytt, rng = RIGHT_TICKS, RIGHT_TEXT, [-1.5, 1.5]
        title = "\u0394H<sub>2</sub>O / ppmv"
    fig.layout[f"yaxis{key}"] = dict(
        axis_common, domain=[py(bot), py(top)], range=rng, anchor=f"x{key}",
        tickmode="array", tickvals=ytv, ticktext=ytt, ticklabelstandoff=4,
        minor=dict(ticks="inside", ticklen=5, tickwidth=1.2, tickcolor="black",
                   tick0=rng[0], dtick=0.5, showgrid=False),
        title=dict(text=title, font=dict(size=21, color="black"), standoff=8),
    )
    xref = f"x{key} domain"
    yref = f"y{key}"
    # end labels of the y axis, kept inside the frame height
    annotations.append(dict(xref=xref, yref=yref, x=0, y=rng[1], xanchor="right", yanchor="top",
                            xshift=-5, yshift=3, text=f"{rng[1]:.1f}", showarrow=False,
                            font=dict(size=21, color="black")))
    annotations.append(dict(xref=xref, yref=yref, x=0, y=rng[0], xanchor="right", yanchor="bottom",
                            xshift=-5, yshift=-4, text=f"{rng[0]:.1f}", showarrow=False,
                            font=dict(size=21, color="black")))
    if c == 1:
        annotations.append(dict(xref=xref, yref=f"y{key} domain", x=0, y=0.1, xanchor="left",
                                yanchor="middle", xshift=3, text=STATIONS[r], showarrow=False,
                                font=dict(size=21, color="black")))
    else:
        ypos = 0.16 if r < 2 else 0.88
        annotations.append(dict(xref=xref, yref=f"y{key} domain", x=0, y=ypos, xanchor="left",
                                yanchor="middle", xshift=4, text=TRENDS[r], showarrow=False,
                                font=dict(size=21, color="black")))

# legend boxes (drawn as a framed box with coloured symbols and real text)
shapes = [
    dict(type="rect", xref="paper", yref="paper", x0=px(332), x1=px(423), y0=py(185), y1=py(139),
         line=dict(color="black", width=1.5), fillcolor="white", layer="above"),
    dict(type="rect", xref="paper", yref="paper", x0=px(746), x1=px(870), y0=py(182), y1=py(154),
         line=dict(color="black", width=1.5), fillcolor="white", layer="above"),
]
legend_items = [
    ("MLS", BLUE, 12, 349, 358, 154),
    ("WVMS", ORANGE, 8, 349, 358, 173),
    ("MLS\u2013WVMS", GREEN, 11, 763, 773, 168),
]
for label, color, dot, xdot, xtext, yc in legend_items:
    annotations.append(dict(xref="paper", yref="paper", x=px(xdot), y=py(yc), xanchor="center",
                            yanchor="middle", text="\u25cf", showarrow=False,
                            font=dict(size=dot, color=color, family="DejaVu Sans")))
    annotations.append(dict(xref="paper", yref="paper", x=px(xtext), y=py(yc), xanchor="left",
                            yanchor="middle", text=label, showarrow=False,
                            font=dict(size=16, color="black")))

fig.update_layout(
    width=W, height=H, margin=dict(l=0, r=0, t=0, b=0),
    template="none", paper_bgcolor="white", plot_bgcolor="white",
    font=dict(family=FONT, size=21, color="black"),
    annotations=annotations, shapes=shapes, showlegend=False,
)

fig.write_html("out.html", config={"displayModeBar": False},
               post_script="document.body.style.margin='0px';")
